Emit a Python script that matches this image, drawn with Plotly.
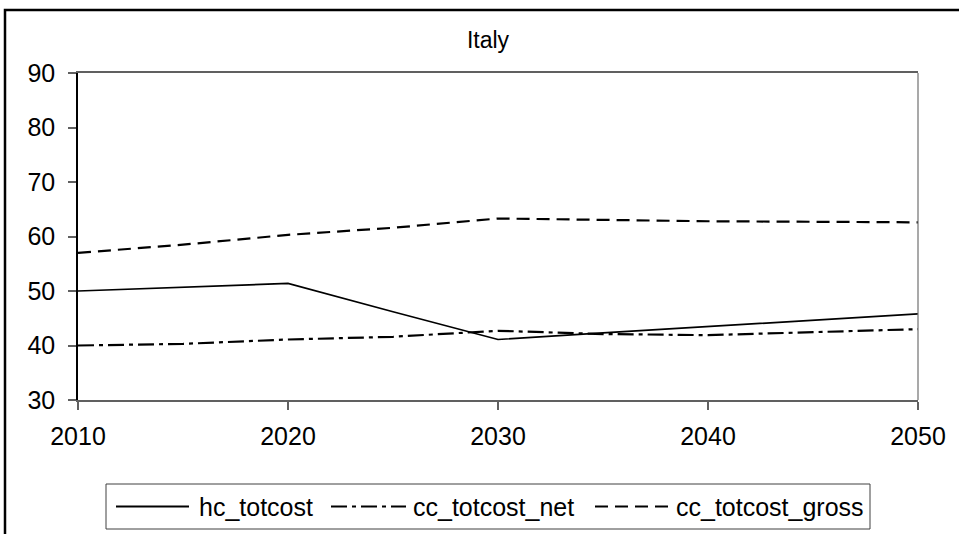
import plotly.graph_objects as go

years = [2010, 2015, 2020, 2025, 2030, 2035, 2040, 2045, 2050]
hc_totcost = [50.0, 50.7, 51.4, 46.2, 41.1, 42.3, 43.5, 44.7, 45.8]
cc_totcost_net = [40.0, 40.3, 41.1, 41.6, 42.7, 42.1, 41.9, 42.4, 43.0]
cc_totcost_gross = [57.0, 58.5, 60.3, 61.6, 63.3, 63.0, 62.8, 62.7, 62.6]
series_names = ["hc_totcost", "cc_totcost_net", "cc_totcost_gross"]
x_ticks = [2010, 2020, 2030, 2040, 2050]
y_ticks = [30, 40, 50, 60, 70, 80, 90]

FONT = "Liberation Sans, Arial, sans-serif"
styles = [
    dict(color="black", width=1.7, dash="solid"),
    dict(color="black", width=2.2, dash="16px,5px,4px,5px"),
    dict(color="black", width=2.2, dash="13px,7px"),
]

fig = go.Figure()
for name, vals, st in zip(series_names, [hc_totcost, cc_totcost_net, cc_totcost_gross], styles):
    fig.add_trace(go.Scatter(x=years, y=vals, mode="lines", name=name, line=st,
                             showlegend=False))

W, H = 959, 534
L, R, T, B = 78, 41, 73, 134
pw, ph = W - L - R, H - T - B


def px(xpix):
    return (xpix - L) / pw


def py(ypix):
    return (H - B - ypix) / ph


shapes = [
    dict(type="line", xref="paper", yref="paper", x0=1, x1=1, y0=0, y1=1,
         line=dict(color="#707070", width=1.2)),
    dict(type="rect", xref="paper", yref="paper", x0=px(5), x1=px(975),
         y0=py(550), y1=py(10), line=dict(color="black", width=2.5),
         fillcolor="rgba(0,0,0,0)", layer="below"),
    # legend box
    dict(type="rect", xref="paper", yref="paper", x0=px(106), x1=px(870),
         y0=py(529), y1=py(484), line=dict(color="#404040", width=1),
         fillcolor="white", layer="below"),
]
annotations = []
leg_y = 506.5
samples = [(116, 189), (331, 406), (595, 669)]
text_x = [197, 411, 674]
for (a, b), tx, name, st in zip(samples, text_x, series_names, styles):
    shapes.append(dict(type="line", xref="paper", yref="paper", x0=px(a), x1=px(b),
                       y0=py(leg_y), y1=py(leg_y),
                       line=dict(color="black", width=2.2, dash=st["dash"])))
    annotations.append(dict(xref="paper", yref="paper", x=px(tx), y=py(leg_y),
                            xanchor="left", yanchor="middle", text=name, showarrow=False,
                            font=dict(size=25, family=FONT, color="black")))

fig.update_layout(
    width=W, height=H,
    margin=dict(l=L, r=R, t=T, b=B, pad=0),
    paper_bgcolor="white", plot_bgcolor="white",
    font=dict(family=FONT, size=25, color="black"),
    title=dict(text="Italy", x=px(488), xref="paper", xanchor="center",
               y=1 - 40 / H, yanchor="middle", font=dict(size=23, family=FONT)),
    xaxis=dict(range=[2010, 2050], tickvals=x_ticks, ticktext=[str(v) for v in x_ticks],
               showgrid=False, zeroline=False, showline=True, linecolor="#606060",
               linewidth=1.5, mirror=True, ticks="outside", ticklen=8, tickcolor="#606060",
               tickwidth=1.5, tickfont=dict(size=25, family=FONT), ticklabelstandoff=5),
    yaxis=dict(range=[30, 90], tickvals=y_ticks, showgrid=False, zeroline=False,
               showline=True, linecolor="black", linewidth=1.5, ticks="outside",
               ticklen=8, tickcolor="#606060", tickwidth=1.5,
               tickfont=dict(size=25, family=FONT), ticklabelstandoff=8),
    showlegend=False,
    shapes=shapes,
    annotations=annotations,
)

fig.write_html("out.html", config={"displayModeBar": False},
               post_script="document.body.style.margin='0';document.body.style.overflow='hidden';")
